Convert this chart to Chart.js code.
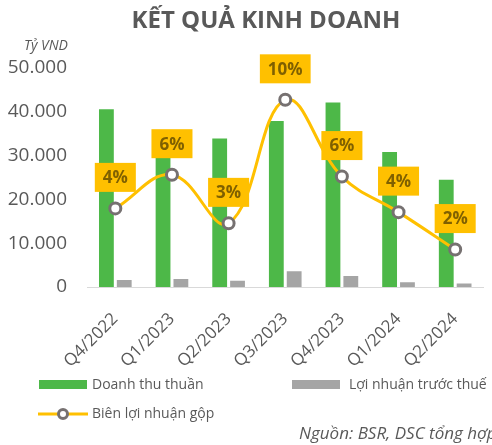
<!DOCTYPE html>
<html>
<head>
<meta charset="utf-8">
<script src="https://cdn.jsdelivr.net/npm/chart.js@4.4.0/dist/chart.umd.min.js"></script>
<style>
  html, body { margin: 0; padding: 0; background: #fff; }
  #wrap { width: 492px; height: 445px; position: relative; }
</style>
</head>
<body>
<div id="wrap"><canvas id="kqkdChart" width="492" height="445"></canvas></div>
<script>
// data
const quarters = ['Q4/2022', 'Q1/2023', 'Q2/2023', 'Q3/2023', 'Q4/2023', 'Q1/2024', 'Q2/2024'];
const revenue = [40600, 29500, 33900, 37900, 42100, 30800, 24500];
const profitBeforeTax = [1600, 1800, 1400, 3600, 2500, 1100, 800];
const grossMargin = [4.2, 6.0, 3.4, 10.0, 5.9, 4.0, 2.0];
const yTicks = [0, 10000, 20000, 30000, 40000, 50000];

const FONT = "'Open Sans', 'Noto Sans', sans-serif";
const GREY_TEXT = '#595959';

// labels, title, legend and source note
const overlay = {
    id: 'overlay',
    afterDatasetsDraw(chart) {
        const ctx = chart.ctx;
        const meta = chart.getDatasetMeta(2);
        ctx.save();
        ctx.font = 'bold 17px ' + FONT;
        ctx.textAlign = 'center';
        ctx.textBaseline = 'middle';
        meta.data.forEach(function(pt, i) {
            const txt = Math.round(grossMargin[i]) + '%';
            const w = ctx.measureText(txt).width + 16;
            const h = 29;
            const cy = pt.y - 31;
            ctx.fillStyle = '#FFC000';
            ctx.fillRect(pt.x - w / 2, cy - h / 2, w, h);
            ctx.fillStyle = '#7F6000';
            ctx.fillText(txt, pt.x, cy + 1);
        });
        ctx.restore();
    },
    afterDraw(chart) {
        const ctx = chart.ctx;
        ctx.save();
        ctx.fillStyle = GREY_TEXT;
        ctx.textBaseline = 'alphabetic';

        ctx.font = 'bold 24px ' + FONT;
        ctx.textAlign = 'center';
        ctx.fillText('KẾT QUẢ KINH DOANH', 266, 28);

        ctx.font = 'italic 14px ' + FONT;
        ctx.textAlign = 'left';
        ctx.fillText('Tỷ VND', 24, 50);

        // legend
        ctx.font = '14px ' + FONT;
        ctx.textBaseline = 'middle';
        ctx.fillStyle = '#4DB848';
        ctx.fillRect(39, 380, 48, 9);
        ctx.fillStyle = GREY_TEXT;
        ctx.fillText(chart.data.datasets[0].label, 92, 385);
        ctx.fillStyle = '#A5A5A5';
        ctx.fillRect(292, 380, 48, 9);
        ctx.fillStyle = GREY_TEXT;
        ctx.fillText(chart.data.datasets[1].label, 349, 385);

        ctx.strokeStyle = '#FFC000';
        ctx.lineWidth = 3;
        ctx.beginPath();
        ctx.moveTo(38, 414);
        ctx.lineTo(88, 414);
        ctx.stroke();
        ctx.beginPath();
        ctx.arc(63, 414, 4.5, 0, Math.PI * 2);
        ctx.fillStyle = '#fff';
        ctx.fill();
        ctx.strokeStyle = '#767171';
        ctx.lineWidth = 3;
        ctx.stroke();
        ctx.fillStyle = GREY_TEXT;
        ctx.fillText(chart.data.datasets[2].label, 92, 414);

        ctx.font = 'italic 17px ' + FONT;
        ctx.textBaseline = 'alphabetic';
        ctx.fillText('Nguồn: BSR, DSC tổng hợp', 299, 439);
        ctx.restore();
    }
};

const ctxKqkd = document.getElementById('kqkdChart').getContext('2d');
const kqkdChart = new Chart(ctxKqkd, {
    type: 'bar',
    data: {
        labels: quarters,
        datasets: [
            {
                label: 'Doanh thu thuần',
                data: revenue,
                backgroundColor: '#4DB848',
                yAxisID: 'y',
                order: 2,
            },
            {
                label: 'Lợi nhuận trước thuế',
                data: profitBeforeTax,
                backgroundColor: '#A5A5A5',
                yAxisID: 'y',
                order: 2,
            },
            {
                type: 'line',
                label: 'Biên lợi nhuận gộp',
                data: grossMargin,
                borderColor: '#FFC000',
                borderWidth: 3,
                tension: 0.4,
                pointRadius: 5.5,
                pointBorderWidth: 3,
                pointBackgroundColor: '#fff',
                pointBorderColor: '#767171',
                yAxisID: 'y1',
                order: 1,
                fill: false,
            }
        ]
    },
    options: {
        responsive: false,
        animation: false,
        layout: { padding: { top: 68, right: 2, left: 0, bottom: 0 } },
        datasets: {
            bar: { barPercentage: 0.83, categoryPercentage: 0.63 }
        },
        plugins: {
            legend: { display: false },
            tooltip: { enabled: false },
        },
        scales: {
            x: {
                grid: { display: false },
                border: { color: '#D9D9D9', width: 1 },
                ticks: {
                    color: GREY_TEXT,
                    font: { family: FONT, size: 17 },
                    minRotation: 45,
                    maxRotation: 45,
                    padding: 14,
                },
                afterFit(scale) { scale.height = 158; },
            },
            y: {
                min: 0,
                max: 50000,
                grid: { display: false },
                border: { display: false },
                afterBuildTicks(scale) { scale.ticks = yTicks.map(v => ({ value: v })); },
                ticks: {
                    color: GREY_TEXT,
                    font: { family: FONT, size: 19 },
                    padding: 12,
                    callback: v => v.toLocaleString('de-DE'),
                },
                afterFit(scale) { scale.width = 87; },
            },
            y1: {
                display: false,
                min: 0,
                max: 11.7,
                position: 'right',
            }
        }
    },
    plugins: [overlay]
});
</script>
</body>
</html>
